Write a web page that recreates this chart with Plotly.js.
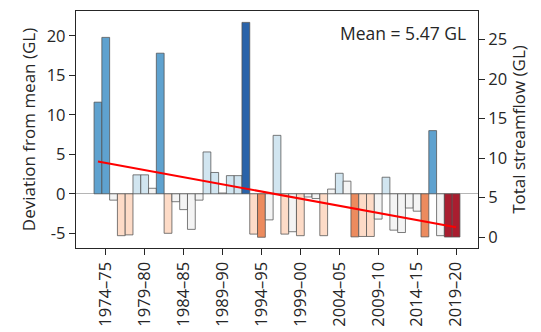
<!DOCTYPE html>
<html>
<head>
<meta charset="utf-8">
<script src="https://cdn.plot.ly/plotly-3.0.1.min.js"></script>
<style>html,body{margin:0;padding:0;background:#fff;}#chart{width:541px;height:332px;}</style>
</head>
<body>
<div id="chart"></div>
<script>
// Financial years 1973–74 .. 2019–20
const years = [];
for (let y = 1973; y <= 2019; y++) {
  years.push(y + '\u2013' + String((y + 1) % 100).padStart(2, '0'));
}
// Deviation from mean (GL)
const deviation = [
  11.6, 19.8, -0.8, -5.3, -5.2, 2.4, 2.4, 0.7, 17.8, -5.0,
  -1.0, -2.0, -4.5, -0.8, 5.3, 2.7, 0.1, 2.3, 2.3, 21.7,
  -5.1, -5.5, -3.3, 7.4, -5.1, -4.8, -5.3, -0.4, -0.6, -5.3,
  0.6, 2.6, 1.6, -5.45, -5.4, -5.4, -3.2, 2.1, -4.6, -4.9,
  -1.8, -2.2, -5.45, 8.0, -5.3, -5.47, -5.47
];
const meanFlow = 5.47;
const tickLabels = ['1974\u201375','1979\u201380','1984\u201385','1989\u201390','1994\u201395',
  '1999\u201300','2004\u201305','2009\u201310','2014\u201315','2019\u201320'];

// style: colour class per bar
const colourClass = [
  'B2','B2','W','R1','R1','B1','B1','W','B2','R1',
  'W','W','W','W','B1','B1','W','B1','B1','B3',
  'R1','R2','W','B1','R1','W','R1','W','W','R1',
  'W','B1','W','R2','R1','R1','W','B1','W','W',
  'W','W','R2','B2','W','R3','R3'
];
const palette = {B3:'#2a63a9', B2:'#5fa2cf', B1:'#d1e5f0', W:'#f4f4f4', R1:'#fddbc7', R2:'#ec8b5e', R3:'#a91d2f'};

// least squares trend
const n = deviation.length;
const idx = deviation.map((_, i) => i);
const mx = idx.reduce((a, b) => a + b, 0) / n;
const my = deviation.reduce((a, b) => a + b, 0) / n;
let sxy = 0, sxx = 0;
for (let i = 0; i < n; i++) { sxy += (i - mx) * (deviation[i] - my); sxx += (i - mx) * (i - mx); }
const slope = sxy / sxx, icpt = my - slope * mx;
const trendX = [years[0], years[n - 1]];
const trendY = [icpt, icpt + slope * (n - 1)];

const FONT = 'Open Sans, Noto Sans, sans-serif';
const yMin = -6.86, yMax = 23.14;

const data = [
  {type:'bar', x: years, y: deviation, width: 1,
   marker:{color: colourClass.map(c => palette[c]), line:{color:'rgba(80,80,80,0.75)', width:1}},
   hoverinfo:'x+y', showlegend:false},
  {type:'scatter', mode:'lines', x: trendX, y: trendY,
   line:{color:'#ff0000', width:2}, showlegend:false, hoverinfo:'skip'},
  {type:'scatter', mode:'lines', x:[years[0]], y:[meanFlow], yaxis:'y2',
   line:{width:0}, showlegend:false, hoverinfo:'skip'}
];

const layout = {
  width: 541, height: 332,
  margin: {l:76, r:63, t:11, b:84, pad:0},
  paper_bgcolor:'#fff', plot_bgcolor:'#fff',
  font:{family: FONT, size:16, color:'#262626'},
  bargap: 0,
  xaxis: {
    type:'category', range:[-2.82, 48.82],
    tickmode:'array', tickvals: tickLabels, ticktext: tickLabels,
    tickangle: -90, ticks:'outside', ticklen:6, tickwidth:1, tickcolor:'#262626',
    showline:true, mirror:true, linecolor:'#262626', linewidth:1.2,
    showgrid:false, zeroline:false, tickfont:{size:16.5, family:FONT}
  },
  yaxis: {
    range:[yMin, yMax], tickvals:[-5,0,5,10,15,20], ticktext:['-5','0','5','10','15','20'],
    ticks:'outside', ticklen:6, tickwidth:1, tickcolor:'#262626',
    showline:true, mirror:true, linecolor:'#262626', linewidth:1.2,
    showgrid:false, zeroline:true, zerolinecolor:'#b5b5b5', zerolinewidth:1,
    title:{text:'Deviation from mean (GL)', font:{size:17, family:FONT}, standoff:6},
    tickfont:{size:16.5, family:FONT}
  },
  yaxis2: {
    overlaying:'y', side:'right', range:[yMin + meanFlow, yMax + meanFlow],
    tickvals:[0,5,10,15,20,25], ticks:'outside', ticklen:6, tickwidth:1, tickcolor:'#262626',
    showline:false, showgrid:false, zeroline:false,
    title:{text:'Total streamflow (GL)', font:{size:17, family:FONT}, standoff:6},
    tickfont:{size:16.5, family:FONT}
  },
  annotations: [{
    xref:'paper', yref:'paper', x:0.975, y:0.965, xanchor:'right', yanchor:'top',
    text:'Mean = ' + meanFlow.toFixed(2) + ' GL', showarrow:false,
    font:{size:17.5, family:FONT, color:'#262626'}
  }]
};

Plotly.newPlot('chart', data, layout, {staticPlot:true, displayModeBar:false});
</script>
</body>
</html>
